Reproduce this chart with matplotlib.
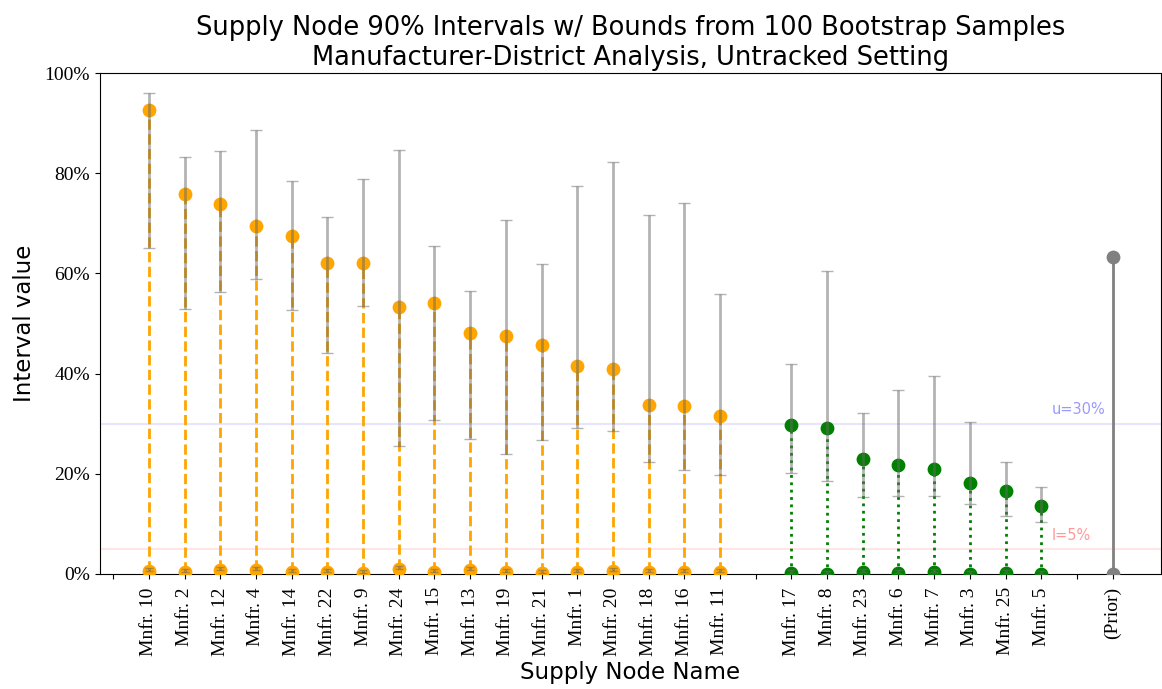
import matplotlib
matplotlib.use("Agg")
import matplotlib.pyplot as plt
from matplotlib.ticker import PercentFormatter
import numpy as np

# orange group (upper interval above u)
names_hi = ["Mnfr. 10", "Mnfr. 2", "Mnfr. 12", "Mnfr. 4", "Mnfr. 14", "Mnfr. 22", "Mnfr. 9",
            "Mnfr. 24", "Mnfr. 15", "Mnfr. 13", "Mnfr. 19", "Mnfr. 21", "Mnfr. 1", "Mnfr. 20",
            "Mnfr. 18", "Mnfr. 16", "Mnfr. 11"]
upper_hi = [92.6, 75.8, 73.9, 69.5, 67.5, 62.1, 62.0, 53.3, 54.1, 48.1, 47.5, 45.7, 41.5, 40.9,
            33.7, 33.5, 31.5]
lower_hi = [0.5, 0.3, 0.7, 0.8, 0.3, 0.3, 0.1, 1.0, 0.3, 0.8, 0.3, 0.1, 0.3, 0.5, 0.3, 0.3, 0.3]
boot_lo_hi = [65.1, 52.8, 56.3, 58.9, 52.6, 44.2, 53.5, 25.5, 30.7, 27.0, 24.0, 26.7, 29.1, 28.6,
              22.4, 20.8, 19.8]
boot_hi_hi = [96.1, 83.2, 84.4, 88.6, 78.5, 71.3, 78.8, 84.6, 65.5, 56.5, 70.6, 61.9, 77.4, 82.2,
              71.6, 74.1, 55.8]

# green group
names_lo = ["Mnfr. 17", "Mnfr. 8", "Mnfr. 23", "Mnfr. 6", "Mnfr. 7", "Mnfr. 3", "Mnfr. 25", "Mnfr. 5"]
upper_lo = [29.7, 29.2, 22.9, 21.7, 21.0, 18.1, 16.6, 13.6]
lower_lo = [0.2, 0.0, 0.3, 0.1, 0.3, 0.0, 0.1, 0.0]
boot_lo_lo = [20.2, 18.6, 15.3, 15.6, 15.6, 13.9, 11.6, 10.3]
boot_hi_lo = [41.9, 60.5, 32.2, 36.7, 39.6, 30.3, 22.4, 17.3]

prior_lower, prior_upper = 0.0, 63.3
u_val, l_val = 30, 5

fig = plt.figure(figsize=(11.62, 6.89), dpi=100)
ax = fig.add_axes([0.086, 0.167, 0.913, 0.727])

x_hi = np.arange(1, len(names_hi) + 1)
x_lo = np.arange(len(names_hi) + 2, len(names_hi) + 2 + len(names_lo))
x_prior = x_lo[-1] + 2

ax.axhline(u_val, color="blue", alpha=0.1, lw=1.5)
ax.axhline(l_val, color="red", alpha=0.1, lw=1.5)

for x, lo, up in zip(x_hi, lower_hi, upper_hi):
    ax.plot([x, x], [lo, up], color="orange", ls="--", lw=2, zorder=5)
ax.scatter(x_hi, upper_hi, color="orange", s=80, zorder=3)
ax.scatter(x_hi, lower_hi, color="orange", s=80, zorder=3)

for x, lo, up in zip(x_lo, lower_lo, upper_lo):
    ax.plot([x, x], [lo, up], color="green", ls=":", lw=2, zorder=5)
ax.scatter(x_lo, upper_lo, color="green", s=80, zorder=3)
ax.scatter(x_lo, lower_lo, color="green", s=80, zorder=3)

ax.plot([x_prior, x_prior], [prior_lower, prior_upper], color="gray", lw=2)
ax.scatter([x_prior, x_prior], [prior_lower, prior_upper], color="gray", s=80, zorder=3)

# bootstrap bounds
bx = np.concatenate([x_hi, x_lo])
blo = np.array(boot_lo_hi + boot_lo_lo)
bhi = np.array(boot_hi_hi + boot_hi_lo)
mid = (blo + bhi) / 2
ax.errorbar(bx, mid, yerr=[mid - blo, bhi - mid], fmt="none", ecolor="dimgray", alpha=0.5,
            capsize=4, elinewidth=2, zorder=6)
llo = np.array(lower_hi + lower_lo)
ax.errorbar(bx, llo, yerr=[np.zeros_like(llo), np.full_like(llo, 0.6)], fmt="none",
            ecolor="dimgray", alpha=0.5, capsize=3, elinewidth=2, zorder=6)

ax.text(x_lo[-1] + 0.3, u_val + 2, "u=30%", color="blue", alpha=0.4, fontsize=10.5)
ax.text(x_lo[-1] + 0.3, l_val + 1.8, "l=5%", color="red", alpha=0.4, fontsize=10.5)

ticks = list(range(0, x_prior + 1))
labels = [""] * len(ticks)
for x, n in zip(x_hi, names_hi):
    labels[x] = n
for x, n in zip(x_lo, names_lo):
    labels[x] = n
labels[x_prior] = "(Prior)"
ax.set_xticks(ticks)
ax.set_xticklabels(labels, rotation=90, fontfamily="Liberation Serif", fontsize=14)
ax.tick_params(axis="x", pad=6)
ax.set_xlim(-0.37, x_prior + 1.35)
ax.set_ylim(0, 100)
ax.yaxis.set_major_formatter(PercentFormatter(decimals=0))
for t in ax.get_yticklabels():
    t.set_fontfamily("Liberation Serif")
    t.set_fontsize(14)

ax.set_ylabel("Interval value", fontsize=16.5, labelpad=6)
ax.set_xlabel("Supply Node Name", fontsize=16.5, labelpad=4)
ax.set_title("Supply Node 90% Intervals w/ Bounds from 100 Bootstrap Samples\n"
             "Manufacturer-District Analysis, Untracked Setting", fontsize=18.5)

fig.savefig("out.png", dpi=100)
